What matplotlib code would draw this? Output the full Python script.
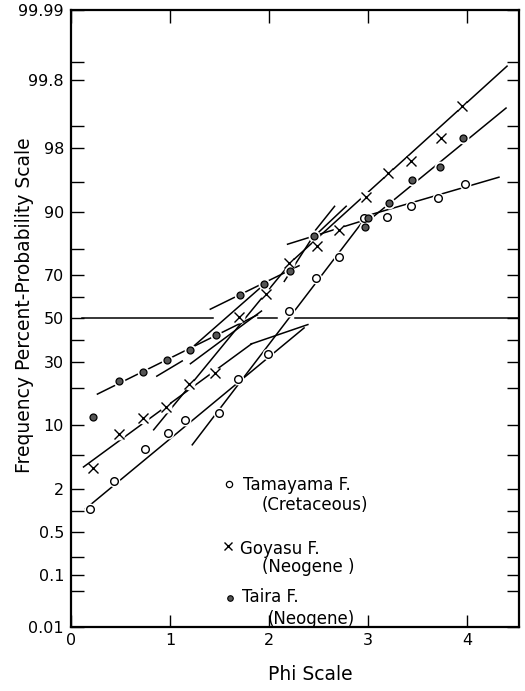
import numpy as np
import matplotlib
matplotlib.use("Agg")
import matplotlib.pyplot as plt
from statistics import NormalDist

# ---------------- data (phi, cumulative percent) ----------------
tama_phi = [0.19, 0.43, 0.75, 0.98, 1.15, 1.49, 1.69, 1.99, 2.20, 2.47, 2.71, 2.96, 3.19, 3.43, 3.71, 3.98]
tama_pct = [1.07, 2.5, 5.8, 8.4, 11.1, 12.7, 23.2, 33.5, 53.7, 68.7, 77.0, 88.8, 89.0, 91.3, 92.6, 94.8]

goya_phi = [0.22, 0.48, 0.73, 0.96, 1.19, 1.45, 1.70, 1.97, 2.20, 2.48, 2.71, 2.98, 3.20, 3.43, 3.74, 3.95]
goya_pct = [3.6, 8.1, 11.5, 14.4, 21.4, 25.4, 50.8, 61.7, 74.8, 81.0, 85.7, 92.8, 96.0, 97.1, 98.5, 99.48]

taira_phi = [0.22, 0.48, 0.73, 0.97, 1.20, 1.46, 1.71, 1.95, 2.21, 2.45, 2.97, 3.00, 3.21, 3.44, 3.73, 3.96]
taira_pct = [11.8, 22.6, 25.8, 30.8, 35.3, 42.2, 61.0, 66.0, 71.5, 84.0, 86.5, 88.6, 91.9, 95.2, 96.6, 98.5]

# fitted line segments: (phi0, pct0, phi1, pct1)
tama_lines = [(0.14, 1.07, 2.36, 45.7),
              (1.22, 6.3, 2.96, 88.3),
              (3.00, 89.3, 4.33, 95.6)]
goya_lines = [(0.12, 3.63, 1.83, 38.2),
              (1.81, 37.8, 2.40, 47.2),
              (0.83, 8.87, 2.23, 75.4),
              (2.24, 75.8, 4.41, 99.885)]
taira_lines = [(0.26, 18.0, 1.89, 51.9),
               (1.20, 35.4, 1.95, 65.9),
               (1.40, 54.3, 2.31, 73.9),
               (2.15, 67.0, 2.45, 84.1),
               (2.18, 81.4, 2.95, 88.1),
               (2.97, 87.4, 4.40, 99.45),
               (0.86, 24.2, 1.13, 30.6),
               (1.20, 29.1, 1.93, 53.8),
               (2.465, 85.5, 2.667, 91.3),
               (2.498, 85.0, 2.785, 91.3)]

# 50 % reference line pieces (phi start, phi end)
mid_pct = 50
mid_pieces = [(0.11, 1.43), (1.89, 2.08), (2.26, 4.525)]

y_major = [0.01, 0.1, 0.5, 2, 10, 30, 50, 70, 90, 98, 99.8, 99.99]
y_major_labels = ["0.01", "0.1", "0.5", "2", "10", "30", "50", "70", "90", "98", "99.8", "99.99"]
y_minor = [0.05, 0.2, 1, 5, 20, 40, 60, 80, 95, 99, 99.9]
x_ticks = [0, 1, 2, 3, 4]

legend_names = ["Tamayama F.", "Goyasu F.", "Taira F."]
legend_ages = ["(Cretaceous)", "(Neogene )", "(Neogene)"]

# ---------------- probability scale ----------------
_nd = NormalDist()


def _ppf1(q):
    if not np.isfinite(q):
        return np.nan
    q = min(max(q, 1e-12), 1 - 1e-12)
    return _nd.inv_cdf(q)


_ppf = np.vectorize(_ppf1, otypes=[float])
_cdf = np.vectorize(lambda z: _nd.cdf(z) if np.isfinite(z) else (np.nan if np.isnan(z) else (1.0 if z > 0 else 0.0)),
                    otypes=[float])


def fwd(p):
    return _ppf(np.asarray(p, dtype=float) / 100.0)


def inv(z):
    return _cdf(np.asarray(z, dtype=float)) * 100.0


plt.rcParams['font.family'] = ['DejaVu Sans']

fig = plt.figure(figsize=(5.25, 6.91), dpi=100)
ax = fig.add_axes([71 / 525, 1 - 627 / 691, 448 / 525, 617 / 691])
ax.set_yscale('function', functions=(fwd, inv))
ax.set_xlim(0, 4.525)
ax.set_ylim(0.01, 99.99)

LW = 1.1
for segs in (tama_lines, goya_lines, taira_lines):
    for (x0, p0, x1, p1) in segs:
        ax.plot([x0, x1], [p0, p1], color='black', lw=LW, zorder=2, solid_capstyle='butt')

for (a, b) in mid_pieces:
    ax.plot([a, b], [mid_pct, mid_pct], color='black', lw=LW, zorder=2)

# white halos to break the lines around markers
for xs, ys in ((tama_phi, tama_pct), (goya_phi, goya_pct), (taira_phi, taira_pct)):
    ax.plot(xs, ys, linestyle='none', marker='o', markersize=8.5, markerfacecolor='white',
            markeredgecolor='none', zorder=3)

ax.plot(tama_phi, tama_pct, linestyle='none', marker='o', markersize=5.5,
        markerfacecolor='white', markeredgecolor='black', markeredgewidth=1.0, zorder=4)
ax.plot(goya_phi, goya_pct, linestyle='none', marker='x', markersize=7,
        color='black', markeredgewidth=1.0, zorder=4)
ax.plot(taira_phi, taira_pct, linestyle='none', marker='o', markersize=5,
        markerfacecolor='#555555', markeredgecolor='black', markeredgewidth=0.9, zorder=4)

# ticks
ax.set_yticks(y_major)
ax.set_yticklabels(y_major_labels)
ax.set_yticks(y_minor, minor=True)
ax.yaxis.set_minor_formatter(matplotlib.ticker.NullFormatter())
ax.set_xticks(x_ticks)
ax.set_xticklabels([str(v) for v in x_ticks])
ax.tick_params(axis='both', which='both', direction='in', length=9, width=1.0,
               top=True, right=True, labelsize=11.5, pad=5)
ax.tick_params(axis='x', pad=4)
for s in ax.spines.values():
    s.set_linewidth(1.6)

# legend (drawn as text in the axes)
mk_x = [0.353, 0.351, 0.356]
mk_y = [0.232, 0.131, 0.047]
ax.plot(mk_x[0], mk_y[0], transform=ax.transAxes, marker='o', markersize=4.5,
        markerfacecolor='white', markeredgecolor='black', markeredgewidth=0.9, clip_on=False)
ax.plot(mk_x[1], mk_y[1], transform=ax.transAxes, marker='x', markersize=6,
        color='black', markeredgewidth=1.0, clip_on=False)
ax.plot(mk_x[2], mk_y[2], transform=ax.transAxes, marker='o', markersize=4,
        markerfacecolor='#555555', markeredgecolor='black', markeredgewidth=0.8, clip_on=False)
name_x = [0.384, 0.377, 0.381]
name_y = [0.230, 0.126, 0.048]
age_x = [0.426, 0.426, 0.440]
age_y = [0.197, 0.097, 0.013]
for i in range(3):
    ax.text(name_x[i], name_y[i], legend_names[i], transform=ax.transAxes,
            fontsize=12, ha='left', va='center')
    ax.text(age_x[i], age_y[i], legend_ages[i], transform=ax.transAxes,
            fontsize=12, ha='left', va='center')

fig.text(310 / 525, 1 - 675 / 691, "Phi Scale", fontsize=13.5, ha='center', va='center')
fig.text(25 / 525, 1 - 305 / 691, "Frequency Percent-Probability Scale", fontsize=13.5,
         rotation=90, ha='center', va='center')

fig.savefig("out.png", dpi=100)
